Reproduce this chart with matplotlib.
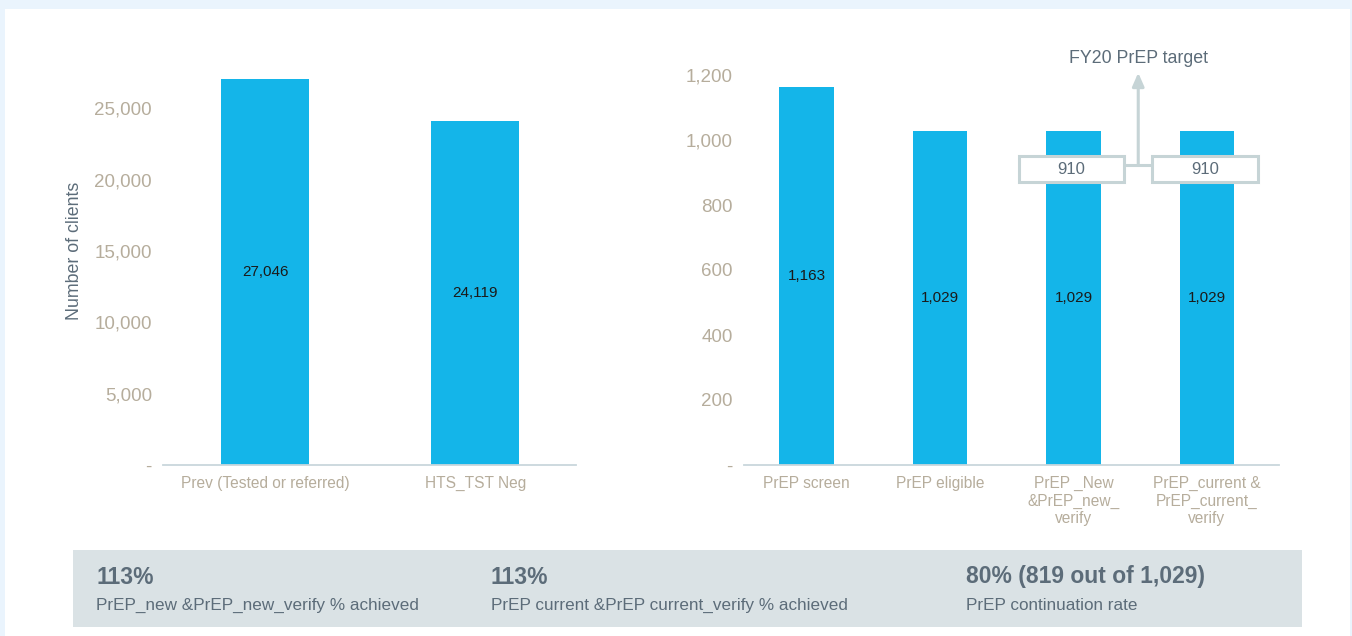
import matplotlib
matplotlib.use('Agg')
import matplotlib.pyplot as plt
from matplotlib.patches import Rectangle

# ── data ──
left_cats = ["Prev (Tested or referred)", "HTS_TST Neg"]
left_vals = [27046, 24119]
left_ticks = [0, 5000, 10000, 15000, 20000, 25000]

right_cats = ["PrEP screen", "PrEP eligible",
              "PrEP _New\n&PrEP_new_\nverify",
              "PrEP_current &\nPrEP_current_\nverify"]
right_vals = [1163, 1029, 1029, 1029]
right_ticks = [0, 200, 400, 600, 800, 1000, 1200]

target_idx = [2, 3]
target_vals = [910, 910]
target_label = "FY20 PrEP target"

summary_heads = ["113%", "113%", "80% (819 out of 1,029)"]
summary_subs = ["PrEP_new &PrEP_new_verify % achieved",
                "PrEP current &PrEP current_verify % achieved",
                "PrEP continuation rate"]

# ── styles ──
BAR = '#14B5E9'
TICK_C = '#B6AD9C'
AXIS_C = '#C9D7DC'
DARK = '#5C6C79'
BOX_EDGE = '#C6D4D6'
W, H = 1352, 636


def fig_rect(x0, y0, x1, y1):
    # pixel box (top-left origin) -> figure fraction
    return [x0 / W, 1 - y1 / H, (x1 - x0) / W, (y1 - y0) / H]


def fmt(v):
    return '-' if v == 0 else f"{v:,}"


fig = plt.figure(figsize=(W / 100, H / 100), dpi=100)
fig.patch.set_facecolor('#EAF4FD')
fig.patches.append(Rectangle((5 / W, 0), (1350 - 5) / W, 1 - 9 / H,
                             transform=fig.transFigure, facecolor='white',
                             edgecolor='none', zorder=-2))
fig.patches.append(Rectangle((73 / W, 1 - 627 / H), (1302 - 73) / W,
                             (627 - 550) / H, transform=fig.transFigure,
                             facecolor='#DAE2E5', edgecolor='none', zorder=-1))


def style_axes(ax, ticks):
    for s in ['top', 'right', 'left']:
        ax.spines[s].set_visible(False)
    ax.spines['bottom'].set_color(AXIS_C)
    ax.spines['bottom'].set_linewidth(1.3)
    ax.patch.set_visible(False)
    ax.set_yticks(ticks)
    ax.set_yticklabels([fmt(t) for t in ticks], color=TICK_C,
                       fontsize=13.5, family='Liberation Sans')
    ax.tick_params(axis='y', length=0, pad=8)
    ax.tick_params(axis='x', length=0, pad=8)


# ── left chart ──
axl = fig.add_axes(fig_rect(163, 37, 576, 465))
xl = range(len(left_cats))
axl.bar(xl, left_vals, width=0.42, color=BAR, zorder=2)
axl.set_xlim(-0.486, 1.48)
axl.set_ylim(0, 30000)
style_axes(axl, left_ticks)
axl.set_xticks(list(xl))
axl.set_xticklabels(left_cats, color=TICK_C, fontsize=11.2,
                    family='Liberation Sans')
for x, v in zip(xl, left_vals):
    axl.text(x, v / 2, f"{v:,}", ha='center', va='center', fontsize=11,
             color='#1A1A1A', family='Liberation Sans')
axl.set_ylabel("Number of clients", color=DARK, fontsize=12.8,
               family='Liberation Sans', labelpad=8)

# ── right chart ──
axr = fig.add_axes(fig_rect(744, 42.5, 1279, 465))
xr = range(len(right_cats))
axr.bar(xr, right_vals, width=0.41, color=BAR, zorder=2)
axr.set_xlim(-0.47, 3.54)
axr.set_ylim(0, 1300)
style_axes(axr, right_ticks)
axr.set_xticks(list(xr))
axr.set_xticklabels(right_cats, color=TICK_C, fontsize=11.2,
                    family='Liberation Sans', linespacing=1.2,
                    va='top')
for x, v in zip(xr, right_vals):
    axr.text(x, v / 2, f"{v:,}", ha='center', va='center', fontsize=11,
             color='#1A1A1A', family='Liberation Sans')

# target boxes + connector + arrow
box_w, box_h = 0.79, 80
for i, t in zip(target_idx, target_vals):
    axr.add_patch(Rectangle((i - box_w / 2 - 0.015, t - box_h / 2), box_w,
                            box_h, facecolor='white', edgecolor=BOX_EDGE,
                            linewidth=2.2, zorder=4))
    axr.text(i - 0.015, t, f"{t:,}", ha='center', va='center', fontsize=12,
             color=DARK, family='Liberation Sans', zorder=5)
mid_x = (target_idx[0] + target_idx[1]) / 2 - 0.015
t0 = target_vals[0]
axr.plot([target_idx[0] + box_w / 2 - 0.015, target_idx[1] - box_w / 2 - 0.015],
         [t0 + 12, t0 + 12], color=BOX_EDGE, lw=2.2, zorder=3,
         solid_capstyle='butt')
axr.annotate('', xy=(mid_x, 1207), xytext=(mid_x, t0 + 12),
             arrowprops=dict(arrowstyle='-|>,head_width=0.35,head_length=0.8',
                             color=BOX_EDGE, lw=2.2, shrinkA=0, shrinkB=0),
             zorder=3)
axr.text(mid_x, 1252, target_label, ha='center', va='center', fontsize=12.8,
         color=DARK, family='Liberation Sans')

# ── summary strip ──
for xp, head, sub in zip([96, 491, 966], summary_heads, summary_subs):
    fig.text(xp / W, 1 - 577 / H, head, ha='left', va='center', fontsize=16.5,
             fontweight='bold', color=DARK, family='Liberation Sans')
    fig.text(xp / W, 1 - 605 / H, sub, ha='left', va='center', fontsize=12.3,
             color=DARK, family='Liberation Sans')

fig.savefig('out.png', dpi=100, facecolor=fig.get_facecolor())
